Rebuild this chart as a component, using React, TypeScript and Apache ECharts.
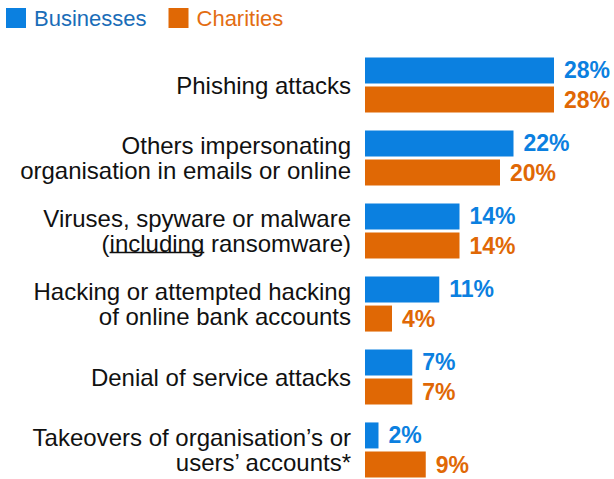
import React, { useEffect, useRef } from "react";
import * as echarts from "echarts";

const categories = [
  "Phishing attacks",
  "Others impersonating\norganisation in emails or online",
  "Viruses, spyware or malware\n(including ransomware)",
  "Hacking or attempted hacking\nof online bank accounts",
  "Denial of service attacks",
  "Takeovers of organisation’s or\nusers’ accounts*",
];
const businesses = [28, 22, 14, 11, 7, 2];
const charities = [28, 20, 14, 4, 7, 9];
const seriesNames = ["Businesses", "Charities"];

const FONT = "'Liberation Sans', Arial, Helvetica, sans-serif";
const BLUE = "#0b80e0";
const ORANGE = "#e06805";
const LABEL_SIZE = 24;
const LINE_H = 25;
const AXIS_LEFT = 365;
const AXIS_MARGIN = 14;

function measure(text: string, size: number): number {
  const c = document.createElement("canvas");
  const ctx = c.getContext("2d");
  if (!ctx) return 0;
  ctx.font = `${size}px 'Liberation Sans', Arial, sans-serif`;
  return ctx.measureText(text).width;
}

export default function App() {
  const ref = useRef<HTMLDivElement>(null);
  useEffect(() => {
    if (!ref.current) return;
    const chart = echarts.init(ref.current, undefined, { renderer: "svg" });
    const gridTop = 48.5;
    const bandH = 73;
    const right = AXIS_LEFT - AXIS_MARGIN;
    const full = measure("(including ransomware)", LABEL_SIZE);
    const x1 = right - full + measure("(", LABEL_SIZE);
    const x2 = x1 + measure("including", LABEL_SIZE);
    const centerY = gridTop + bandH * 2.5;
    const underlineY = centerY + LINE_H / 2 + 9;
    chart.setOption({
      animation: false,
      textStyle: { fontFamily: FONT },
      legend: {
        left: 6,
        top: 7,
        padding: 0,
        itemWidth: 20,
        itemHeight: 20,
        itemGap: 22,
        icon: "rect",
        textStyle: { fontSize: 22, fontFamily: FONT, padding: [0, 0, 0, 3] },
        data: [
          { name: seriesNames[0], textStyle: { color: "#1a6db8" } },
          { name: seriesNames[1], textStyle: { color: "#e36d12" } },
        ],
      },
      grid: {
        left: AXIS_LEFT,
        top: gridTop,
        height: bandH * categories.length,
        width: 6.75 * 30,
      },
      xAxis: {
        type: "value",
        min: 0,
        max: 30,
        show: false,
      },
      yAxis: {
        type: "category",
        data: categories,
        inverse: true,
        axisLine: { show: false },
        axisTick: { show: false },
        axisLabel: {
          fontSize: LABEL_SIZE,
          color: "#111",
          margin: AXIS_MARGIN,
          lineHeight: LINE_H,
          fontFamily: FONT,
        },
      },
      series: [
        {
          name: seriesNames[0],
          type: "bar",
          data: businesses,
          barWidth: 26,
          barGap: "12%",
          itemStyle: { color: BLUE },
          label: {
            show: true,
            position: "right",
            distance: 10,
            formatter: "{c}%",
            fontSize: 23,
            fontWeight: "bold",
            color: BLUE,
            fontFamily: FONT,
          },
        },
        {
          name: seriesNames[1],
          type: "bar",
          data: charities,
          barWidth: 26,
          barGap: "12%",
          itemStyle: { color: ORANGE },
          label: {
            show: true,
            position: "right",
            distance: 10,
            formatter: "{c}%",
            fontSize: 23,
            fontWeight: "bold",
            color: ORANGE,
            fontFamily: FONT,
          },
        },
      ],
      graphic: [
        {
          type: "line",
          shape: { x1, y1: underlineY, x2, y2: underlineY },
          style: { stroke: "#111", lineWidth: 1.5 },
        },
      ],
    });
    return () => chart.dispose();
  }, []);
  return (
    <div
      style={{
        position: "absolute",
        left: 0,
        top: 0,
        width: 614,
        height: 479,
        overflow: "hidden",
      }}
    >
      <div ref={ref} style={{ width: 614, height: 500 }} />
    </div>
  );
}
